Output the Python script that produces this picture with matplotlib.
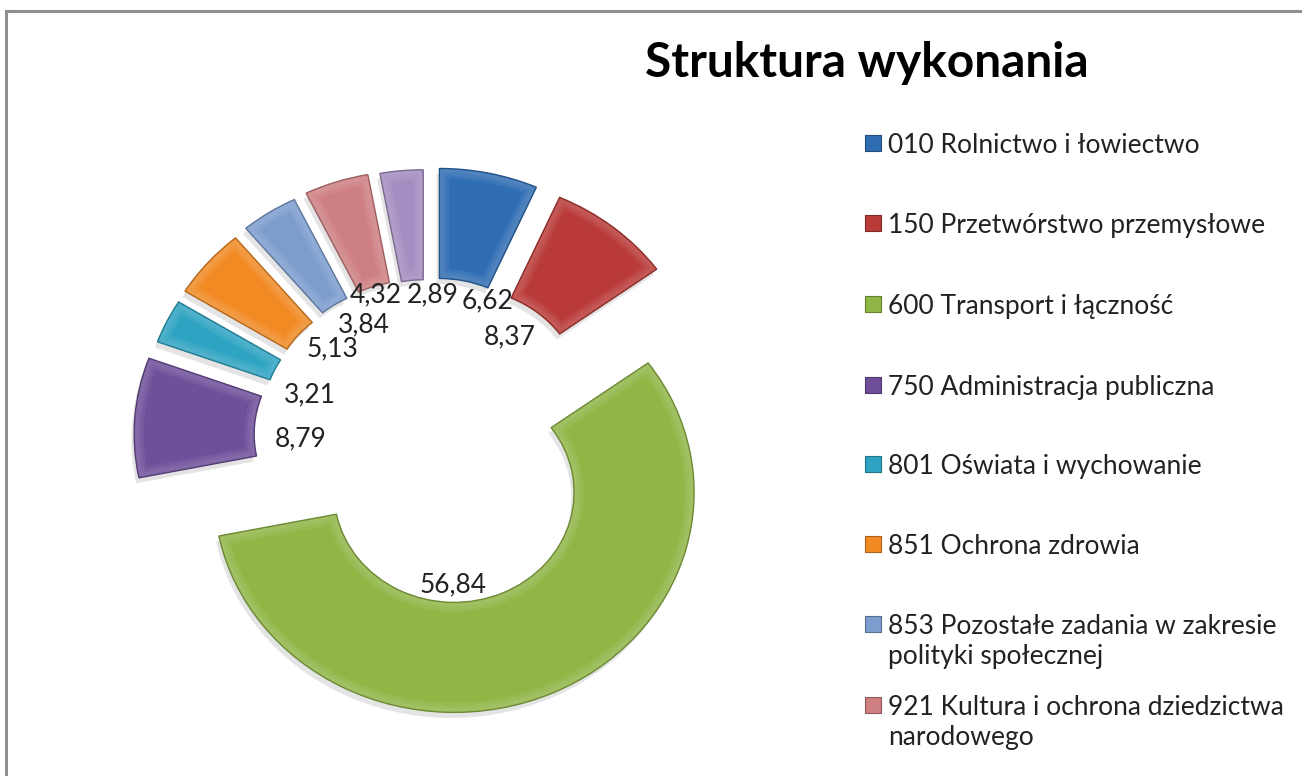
import matplotlib
matplotlib.use("Agg")
import matplotlib.pyplot as plt
import matplotlib.patheffects as pe
from matplotlib.patches import Wedge

W, H = 1302, 776
TITLE = "Struktura wykonania"
categories = ["010 Rolnictwo i łowiectwo", "150 Przetwórstwo przemysłowe",
              "600 Transport i łączność", "750 Administracja publiczna",
              "801 Oświata i wychowanie", "851 Ochrona zdrowia",
              "853 Pozostałe zadania w zakresie\npolityki społecznej",
              "921 Kultura i ochrona dziedzictwa\nnarodowego"]
values = [6.62, 8.37, 56.84, 8.79, 3.21, 5.13, 3.84, 4.32, 2.89]
value_labels = ["6,62", "8,37", "56,84", "8,79", "3,21", "5,13", "3,84", "4,32", "2,89"]
colors = ["#2F6DB3", "#B93A37", "#90B646", "#6F4E9A", "#2FA4C2",
          "#F28A24", "#7C9DCE", "#CE7F82", "#A48DC0"]
explode = [0.23, 0.23, 0.27, 0.225, 0.21, 0.215, 0.22, 0.225, 0.22]

label_px = [(488, 301), (510, 337), (453, 585), (301, 439), (310, 395),
            (333, 349), (364, 325), (376, 295), (433, 295)]
legend_y = [143, 223, 304, 385, 464, 544, 624, 705]

plt.rcParams["font.family"] = ["Lato", "DejaVu Sans"]
fig = plt.figure(figsize=(W / 100, H / 100), dpi=100, facecolor="white")

# pixel overlay for frame, legend and text
ov = fig.add_axes([0, 0, 1, 1], zorder=3)
ov.set_xlim(0, W)
ov.set_ylim(H, 0)
ov.axis("off")
ov.patch.set_alpha(0)
ov.plot([6, 6, W], [H, 11, 11], color="#8f8f8f", lw=2.2, solid_joinstyle="miter")

# pie axes: one data unit = 240 px horizontally, 220 px vertically
cx, cy, rx, ry = 428, 438, 240, 220
xl, xr, yb, yt = -1.5, 1.5, -1.3, 1.6
ax = fig.add_axes([(cx + xl * rx) / W, 1 - (cy - yb * ry) / H,
                   (xr - xl) * rx / W, (yt - yb) * ry / H], zorder=1)
wedges, _ = ax.pie(values, colors=colors, explode=explode, startangle=90,
                   counterclock=False, radius=1.0, normalize=True,
                   wedgeprops=dict(width=0.5, linewidth=0))
ax.set_aspect("auto")
ax.set_xlim(xl, xr)
ax.set_ylim(yb, yt)
ax.axis("off")


def shade(c, f):
    r, g, b = matplotlib.colors.to_rgb(c)
    if f >= 0:
        return (r + (1 - r) * f, g + (1 - g) * f, b + (1 - b) * f)
    return (r * (1 + f), g * (1 + f), b * (1 + f))


for w, c in zip(wedges, colors):
    w.set_path_effects([pe.SimplePatchShadow(offset=(-2, -4), shadow_rgbFace="#888888", alpha=0.22), pe.Normal()])
    w.set_zorder(2)
    for lw in (14, 10, 6):
        glow = Wedge(w.center, w.r, w.theta1, w.theta2, width=w.width, facecolor="none",
                     edgecolor=shade(c, 0.30), alpha=0.22, linewidth=lw, zorder=3)
        ax.add_patch(glow)
        glow.set_clip_path(w)
    rim = Wedge(w.center, w.r, w.theta1, w.theta2, width=w.width, facecolor="none",
                edgecolor=shade(c, -0.25), linewidth=1.0, zorder=4)
    ax.add_patch(rim)

for txt, (x, y) in zip(value_labels, label_px):
    ov.text(x, y, txt, fontsize=19, color="#222222", ha="center", va="center")

ov.text(867, 63, TITLE, fontsize=34.5, fontweight="bold", color="black", ha="center", va="center")

for name, c, y in zip(categories, colors, legend_y):
    ov.scatter([873], [y], marker="s", s=120, color=c, edgecolors=shade(c, -0.3), linewidths=0.8)
    ov.text(888, y - 10, name, fontsize=19, color="#222222", ha="left", va="top", linespacing=1.25)

fig.savefig("out.png", dpi=100, facecolor="white")
